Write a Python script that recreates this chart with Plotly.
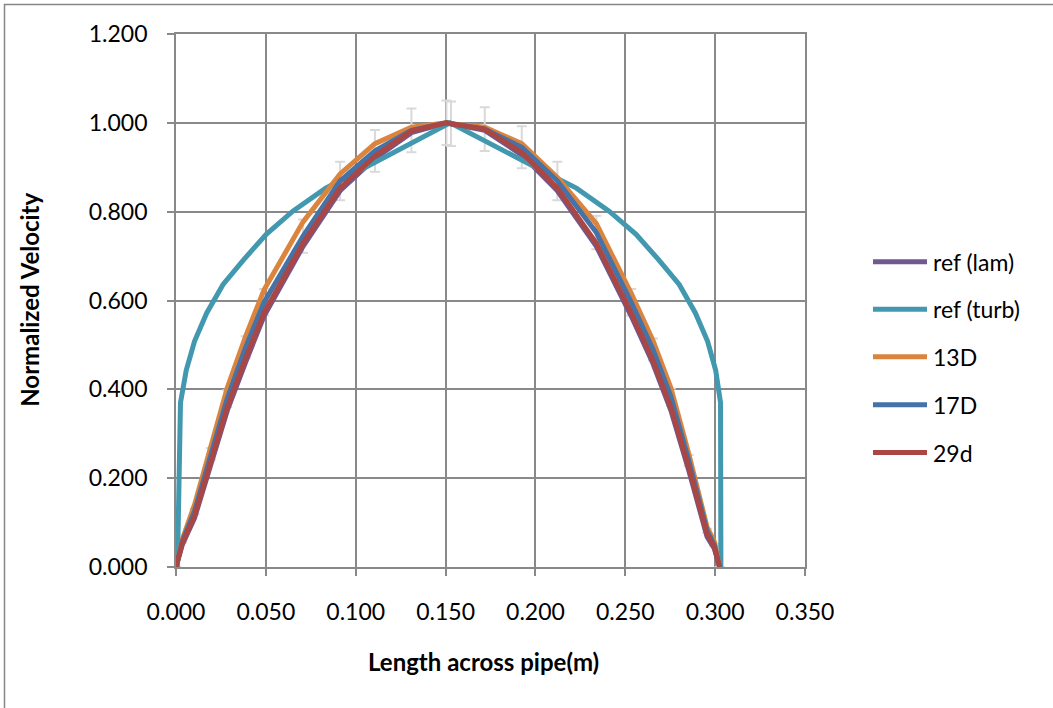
import plotly.graph_objects as go

# ---------------- data ----------------
x_meas = [0.0, 0.0035, 0.0103, 0.0194, 0.0285, 0.0388, 0.049, 0.0707, 0.0913, 0.1107,
          0.131, 0.1505, 0.1530, 0.1718, 0.1924, 0.2122, 0.2339, 0.2533, 0.2654, 0.2754,
          0.2853, 0.2955, 0.2995, 0.3025]

ref_lam = [0.0, 0.050, 0.110, 0.235, 0.352, 0.462, 0.565, 0.722, 0.847, 0.920,
           0.978, 1.0, 0.998, 0.983, 0.928, 0.847, 0.722, 0.565, 0.458, 0.352,
           0.218, 0.068, 0.042, 0.0]

d13 = [0.0, 0.062, 0.140, 0.275, 0.403, 0.520, 0.624, 0.777, 0.885, 0.953,
       0.990, 1.0, 0.998, 0.990, 0.953, 0.877, 0.773, 0.616, 0.510, 0.403,
       0.255, 0.090, 0.058, 0.0]

d17 = [0.0, 0.058, 0.125, 0.255, 0.379, 0.495, 0.596, 0.745, 0.869, 0.937,
       0.983, 1.0, 0.998, 0.986, 0.945, 0.869, 0.753, 0.596, 0.490, 0.383,
       0.240, 0.082, 0.050, 0.0]

d29 = [0.0, 0.054, 0.115, 0.240, 0.359, 0.470, 0.572, 0.729, 0.853, 0.925,
       0.982, 1.0, 0.998, 0.986, 0.933, 0.853, 0.729, 0.572, 0.465, 0.359,
       0.225, 0.074, 0.046, 0.0]

x_turb = [0.0008, 0.0025, 0.0057, 0.0103, 0.0171, 0.0262, 0.0377, 0.0502, 0.065, 0.0833,
          0.0947, 0.1525, 0.2110, 0.2228, 0.2410, 0.2560, 0.2685, 0.2800, 0.2890, 0.2958,
          0.3003, 0.3030, 0.3032]
ref_turb = [0.0, 0.370, 0.443, 0.508, 0.572, 0.636, 0.692, 0.749, 0.801, 0.853,
            0.877, 1.0, 0.877, 0.853, 0.801, 0.749, 0.692, 0.636, 0.572, 0.508,
            0.443, 0.370, 0.0]

series_names = ["ref (lam)", "ref (turb)", "13D", "17D", "29d"]
series_colors = ["#71588F", "#4198AF", "#DB843D", "#4572A7", "#AA4643"]

x_ticks = [0.0, 0.05, 0.1, 0.15, 0.2, 0.25, 0.3, 0.35]
y_ticks = [0.0, 0.2, 0.4, 0.6, 0.8, 1.0, 1.2]

# ---------------- figure ----------------
FONT = "Lato, 'Open Sans', sans-serif"
GRID = "#898989"
LW = 5

fig = go.Figure()

# error bars (5 %) on the 17D measurements, drawn beneath every line
fig.add_trace(go.Scatter(
    x=x_meas, y=d17, mode="lines", line=dict(width=0, color="rgba(0,0,0,0)"),
    error_y=dict(type="percent", value=5, color="#D9D9D9", thickness=2, width=5),
    showlegend=False, hoverinfo="skip"))

ys = [ref_lam, ref_turb, d13, d17, d29]
xs = [x_meas, x_turb, x_meas, x_meas, x_meas]
for name, col, xx, yy in zip(series_names, series_colors, xs, ys):
    fig.add_trace(go.Scatter(x=xx, y=yy, mode="lines", name=name,
                             line=dict(color=col, width=LW), showlegend=False))

# plot-area geometry (pixels)
L, R, T, B = 176, 248, 34, 140.5
W, H = 1053, 708
pw, ph = W - L - R, H - T - B

def px(xp):
    return (xp - L) / pw

def py(yp):
    return (H - B - yp) / ph

shapes = []
annotations = []

# manual legend
leg_y = [262, 309.5, 357, 405, 453]
for name, col, yp in zip(series_names, series_colors, leg_y):
    shapes.append(dict(type="line", xref="paper", yref="paper",
                       x0=px(873), x1=px(927), y0=py(yp), y1=py(yp),
                       line=dict(color=col, width=LW)))
    annotations.append(dict(xref="paper", yref="paper", x=px(931), y=py(yp),
                            text=name, showarrow=False, xanchor="left", yanchor="middle",
                            font=dict(family=FONT, size=23, color="#000000")))

# outer chart frame
shapes.append(dict(type="rect", xref="paper", yref="paper",
                   x0=px(4.5), x1=px(1200), y0=py(900), y1=py(4.5),
                   line=dict(color="#868686", width=1.5), layer="below"))

# axis titles
annotations.append(dict(xref="paper", yref="paper", x=px(30), y=py(300),
                        text="<b>Normalized Velocity</b>", textangle=-90, showarrow=False,
                        xanchor="center", yanchor="middle",
                        font=dict(family=FONT, size=24, color="#000000")))
annotations.append(dict(xref="paper", yref="paper", x=px(483), y=py(662),
                        text="<b>Length across pipe(m)</b>", showarrow=False,
                        xanchor="center", yanchor="middle",
                        font=dict(family=FONT, size=24, color="#000000")))

axis_common = dict(showgrid=True, gridcolor=GRID, gridwidth=1.8,
                   showline=True, linecolor=GRID, linewidth=1.8, mirror=True,
                   ticks="outside", ticklen=7, tickcolor=GRID, tickwidth=1.5,
                   tickformat=".3f", zeroline=False, layer="below traces",
                   tickfont=dict(family=FONT, size=23, color="#000000"))

fig.update_layout(
    width=W, height=H,
    margin=dict(l=L, r=R, t=T, b=B, pad=0),
    paper_bgcolor="white", plot_bgcolor="white",
    showlegend=False,
    xaxis=dict(range=[0, 0.35], tickvals=x_ticks, ticklabelstandoff=16, **axis_common),
    yaxis=dict(range=[0, 1.2], tickvals=y_ticks, ticklabelstandoff=15, **axis_common),
    shapes=shapes,
    annotations=annotations,
)

fig.write_html("out.html")
